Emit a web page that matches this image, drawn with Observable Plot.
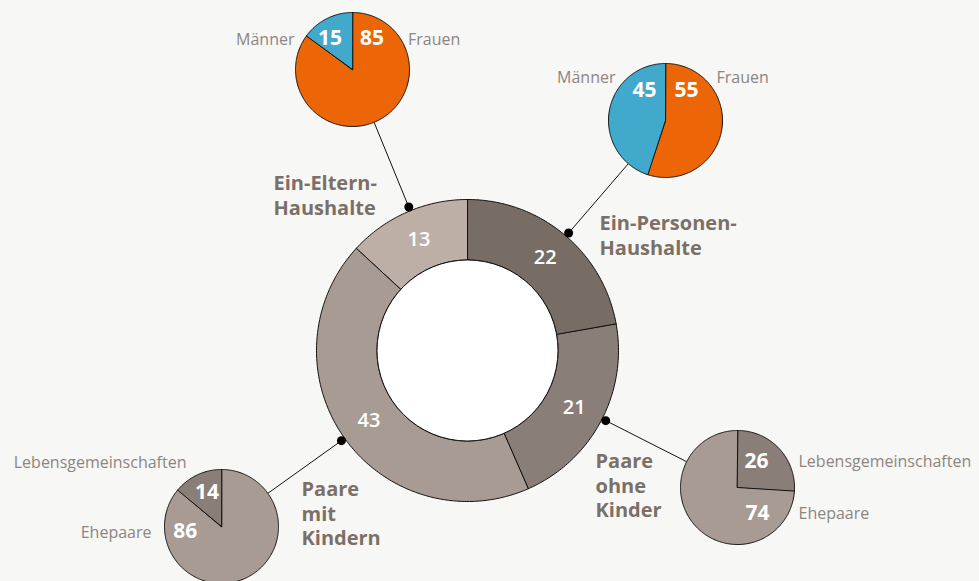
<!DOCTYPE html>
<html><head><meta charset="utf-8">
<script src="https://cdn.jsdelivr.net/npm/d3@7"></script>
<script src="https://cdn.jsdelivr.net/npm/@observablehq/plot@0.6"></script>
<style>
html,body{margin:0;padding:0;background:#f7f7f5;}
#chart svg{display:block;}
</style></head><body><div id="chart"></div>
<script>
// ---------- DATA ----------
const householdTypes  = ["Ein-Personen-Haushalte", "Paare ohne Kinder", "Paare mit Kindern", "Ein-Eltern-Haushalte"];
const householdShares = [22, 21, 43, 13];
const householdLabels = ["Ein-Personen-\nHaushalte", "Paare\nohne\nKinder", "Paare\nmit\nKindern", "Ein-Eltern-\nHaushalte"];

const singleCats   = ["Frauen", "Männer"];
const singleShares = [55, 45];
const singleParentCats   = ["Frauen", "Männer"];
const singleParentShares = [85, 15];
const couplesNoKidsCats   = ["Lebensgemeinschaften", "Ehepaare"];
const couplesNoKidsShares = [26, 74];
const couplesKidsCats   = ["Ehepaare", "Lebensgemeinschaften"];
const couplesKidsShares = [86, 14];

// ---------- LAYOUT / STYLE ----------
const W = 979, H = 581;
const donut = {cx: 467, cy: 350, r0: 90.5, r1: 151, labelR: 121, dotR: 155};
const donutColors = ["#786d64", "#8a7e79", "#a89b94", "#bdafa6"];
const ORANGE = "#ec6608", BLUE = "#40a9cc", DARK = "#8a7e79", LIGHT = "#a89b94";
const LABEL_BOLD = "#7b7068", LABEL_REG = "#8c8681";
const FONT = "'Open Sans', 'Noto Sans', sans-serif";

const pies = [
  {key: "Ein-Personen-Haushalte", cx: 665, cy: 120, r: 57, cats: singleCats, vals: singleShares, colors: [ORANGE, BLUE],
   valPos: [{x: 674, y: 89.5, a: "start"}, {x: 656, y: 89.5, a: "end"}],
   catPos: [{x: 716, y: 77, a: "start"}, {x: 615, y: 77, a: "end"}],
   title: {x: 599, y: 212.5}},
  {key: "Paare ohne Kinder", cx: 737, cy: 487, r: 57, cats: couplesNoKidsCats, vals: couplesNoKidsShares, colors: [DARK, LIGHT],
   valPos: [{x: 756, y: 461, a: "middle"}, {x: 757, y: 512.5, a: "middle"}],
   catPos: [{x: 798, y: 461, a: "start"}, {x: 798, y: 513, a: "start"}],
   title: {x: 595, y: 450.5}},
  {key: "Paare mit Kindern", cx: 221, cy: 526, r: 57, cats: couplesKidsCats, vals: couplesKidsShares, colors: [LIGHT, DARK],
   valPos: [{x: 184.7, y: 531, a: "middle"}, {x: 206.5, y: 492, a: "middle"}],
   catPos: [{x: 151, y: 532, a: "end"}, {x: 186, y: 462.5, a: "end"}],
   title: {x: 301, y: 478.5}},
  {key: "Ein-Eltern-Haushalte", cx: 352, cy: 69, r: 57, cats: singleParentCats, vals: singleParentShares, colors: [ORANGE, BLUE],
   valPos: [{x: 359.5, y: 37.5, a: "start"}, {x: 341.5, y: 37.5, a: "end"}],
   catPos: [{x: 407.5, y: 39.5, a: "start"}, {x: 294, y: 39.5, a: "end"}],
   title: {x: 273, y: 172.5}}
];

// ---------- GEOMETRY HELPERS (derived from data) ----------
const pt = (cx, cy, r, a) => ({x: cx + r * Math.sin(a), y: cy - r * Math.cos(a)});
function arc(cx, cy, r, a0, a1) {
  const n = Math.max(2, Math.ceil(Math.abs(a1 - a0) / (Math.PI / 180)));
  return d3.range(n + 1).map(i => pt(cx, cy, r, a0 + (a1 - a0) * i / n));
}
const pieGen = d3.pie().sort(null).value(d => d);

const marks = [];

// donut ring slices
const donutArcs = pieGen(householdShares);
donutArcs.forEach((s, i) => {
  const poly = [...arc(donut.cx, donut.cy, donut.r1, s.startAngle, s.endAngle),
                ...arc(donut.cx, donut.cy, donut.r0, s.endAngle, s.startAngle)];
  marks.push(Plot.line(poly, {x: "x", y: "y", fill: donutColors[i], stroke: "#111", strokeWidth: 1, curve: "linear-closed"}));
});
// white inner disc
marks.push(Plot.dot([{x: donut.cx, y: donut.cy}], {x: "x", y: "y", r: donut.r0, fill: "#ffffff", stroke: "#111", strokeWidth: 1}));

// donut value labels
const donutLabelData = donutArcs.map((s, i) => ({...pt(donut.cx, donut.cy, donut.labelR, (s.startAngle + s.endAngle) / 2), t: String(householdShares[i])}));
marks.push(Plot.text(donutLabelData, {x: "x", y: "y", text: "t", fill: "#fff", fontSize: 20, fontWeight: 600, fontFamily: FONT}));

// connectors
const connectors = pies.map(p => {
  const dx = p.cx - donut.cx, dy = p.cy - donut.cy, d = Math.hypot(dx, dy);
  return {x1: donut.cx + dx / d * donut.dotR, y1: donut.cy + dy / d * donut.dotR,
          x2: donut.cx + dx / d * (d - p.r), y2: donut.cy + dy / d * (d - p.r)};
});
marks.push(Plot.link(connectors, {x1: "x1", y1: "y1", x2: "x2", y2: "y2", stroke: "#111", strokeWidth: 1}));
marks.push(Plot.dot(connectors, {x: "x1", y: "y1", r: 4.5, fill: "#000"}));

// small pies
pies.forEach(p => {
  pieGen(p.vals).forEach((s, i) => {
    const poly = [{x: p.cx, y: p.cy}, ...arc(p.cx, p.cy, p.r, s.startAngle, s.endAngle)];
    marks.push(Plot.line(poly, {x: "x", y: "y", fill: p.colors[i], stroke: "#111", strokeWidth: 1, curve: "linear-closed"}));
  });
  const vals = p.vals.map((v, i) => ({...p.valPos[i], t: String(v)}));
  ["start", "middle", "end"].forEach(a => {
    const sub = vals.filter(d => d.a === a);
    if (sub.length) marks.push(Plot.text(sub, {x: "x", y: "y", text: "t", textAnchor: a, fill: "#fff", fontSize: 21, fontWeight: 700, fontFamily: FONT}));
  });
  const cats = p.cats.map((c, i) => ({...p.catPos[i], t: c}));
  ["start", "end"].forEach(a => {
    const sub = cats.filter(d => d.a === a);
    if (sub.length) marks.push(Plot.text(sub, {x: "x", y: "y", text: "t", textAnchor: a, fill: LABEL_REG, fontSize: 16, fontWeight: 400, fontFamily: FONT}));
  });
});

// household titles
const titleData = pies.map(p => ({...p.title, t: householdLabels[householdTypes.indexOf(p.key)]}));
marks.push(Plot.text(titleData, {x: "x", y: "y", text: "t", textAnchor: "start", lineAnchor: "top", lineHeight: 1.22,
  fill: LABEL_BOLD, fontSize: 20, fontWeight: 700, fontFamily: FONT}));

const chart = Plot.plot({
  width: W, height: H, margin: 0,
  x: {domain: [0, W], range: [0, W], axis: null},
  y: {domain: [0, H], range: [0, H], axis: null},
  style: {background: "transparent", overflow: "visible"},
  marks
});
document.getElementById("chart").appendChild(chart);
</script>
</body></html>
